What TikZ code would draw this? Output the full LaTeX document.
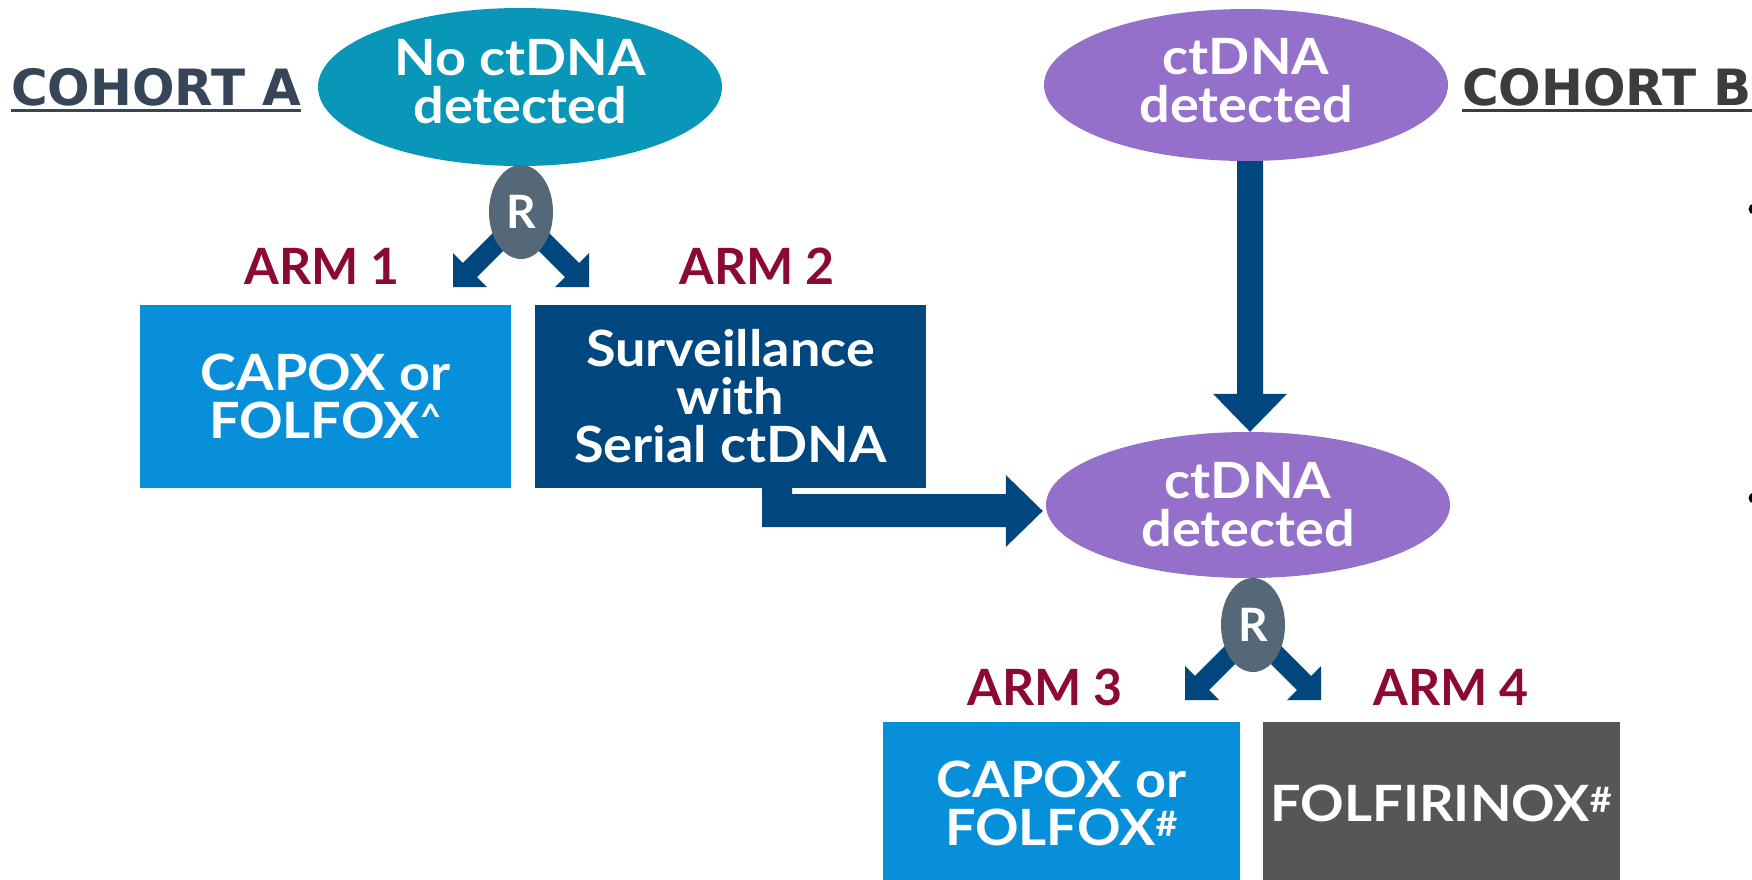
\documentclass[tikz,border=0pt]{standalone}
\usepackage{fontspec}
\setmainfont{Lato}
\newfontfamily\widefont{Lato}[FakeStretch=1.08]
\newfontfamily\cohortfont{DejaVu Sans}
\usetikzlibrary{shapes.geometric,calc,backgrounds}
\definecolor{ctteal}{RGB}{8,150,185}
\definecolor{ctpurple}{RGB}{148,112,203}
\definecolor{rgrey}{RGB}{84,104,120}
\definecolor{ctnavy}{RGB}{0,70,127}
\definecolor{ltblue}{RGB}{8,143,218}
\definecolor{dkgrey}{RGB}{85,87,87}
\definecolor{armred}{RGB}{140,10,50}
\definecolor{cohortA}{RGB}{54,70,88}
\definecolor{cohortB}{RGB}{60,60,60}
\begin{document}
\begin{tikzpicture}[x=1pt,y=-1pt,
  ell/.style={ellipse, inner sep=0pt, minimum width=404pt},
  elltext/.style={inner sep=0pt, text=white, align=center,
    font=\widefont\bfseries\fontsize{50}{48}\selectfont},
  rnode/.style={ellipse, fill=rgrey, minimum width=64pt, minimum height=94pt,
    inner sep=0pt, text=white, font=\fontsize{46}{46}\selectfont\bfseries},
  boxnode/.style={rectangle, inner sep=0pt, text=white,
    font=\widefont\bfseries\fontsize{50}{48}\selectfont, align=center},
  armlabel/.style={text=armred, font=\fontsize{50}{50}\selectfont\bfseries,
    inner sep=0pt, anchor=base},
  cohort/.style={font=\cohortfont\bfseries\fontsize{50}{50}\selectfont,
    inner sep=0pt, anchor=base west},
  arrowfill/.style={fill=ctnavy}]
\clip (0,0) rectangle (1752,879);

% cohort labels
\node[cohort, text=cohortA] (cA) at (11,105) {COHORT A};
\draw[cohortA, line width=3pt] ($(cA.base west)+(0,5.5)$) -- ($(cA.base east)+(0,5.5)$);
\node[cohort, text=cohortB] (cB) at (1462,105) {COHORT B};
\draw[cohortB, line width=3pt] ($(cB.base west)+(0,5.5)$) -- ($(cB.base east)+(0,5.5)$);

% ellipses
\node[ell, fill=ctteal, minimum height=158pt] (eA) at (520,87) {};
\node[elltext] (eAt) at ($(eA.center)+(0,-5)$) {No ctDNA\\detected};
\node[ell, fill=ctpurple, minimum height=152pt] (eB) at (1246,85) {};
\node[elltext] (eBt) at ($(eB.center)+(0,-4)$) {ctDNA\\detected};
\node[ell, fill=ctpurple, minimum height=146pt] (eC) at (1248,505) {};
\node[elltext] (eCt) at ($(eC.center)+(0,0)$) {ctDNA\\detected};

% boxes
\node[boxnode, fill=ltblue, minimum width=371pt, minimum height=183pt] (b1) at (325.5,396.5)
  {CAPOX or\\FOLFOX\textsuperscript{\textasciicircum}};
\node[boxnode, fill=ctnavy, minimum width=391pt, minimum height=183pt] (b2) at (730.5,396.5)
  {Surveillance\\with\\Serial ctDNA};
\node[boxnode, fill=ltblue, minimum width=357pt, minimum height=162pt] (b3) at (1061.5,803)
  {CAPOX or\\FOLFOX\textsuperscript{\#}};
\node[boxnode, fill=dkgrey, minimum width=357pt, minimum height=162pt] (b4) at (1441.5,803)
  {FOLFIRINOX\textsuperscript{\#}};

% arm labels
\node[armlabel] (arm1) at (322,284) {ARM 1};
\node[armlabel] (arm2) at (757,284) {ARM 2};
\node[armlabel] (arm3) at (1045,705) {ARM 3};
\node[armlabel] (arm4) at (1451,705) {ARM 4};

% randomisation nodes
\node[rnode] (rA) at (521,212) {R};
\node[rnode] (rB) at (1253,625) {R};

\begin{pgfonlayer}{background}
\fill[white] (0,0) rectangle (1752,879);
% split arrows below each R
\foreach \r in {rA,rB} {
  \fill[arrowfill] ($(\r)+(11.07,10.07)$) -- ($(\r)+(-43.93,65.07)$) -- ($(\r)+(-34,75)$)
    -- ($(\r)+(-68,75)$) -- ($(\r)+(-68,41)$) -- ($(\r)+(-58.07,50.93)$)
    -- ($(\r)+(-3.07,-4.07)$) -- cycle;
  \fill[arrowfill] ($(\r)+(-11.07,10.07)$) -- ($(\r)+(43.93,65.07)$) -- ($(\r)+(34,75)$)
    -- ($(\r)+(68,75)$) -- ($(\r)+(68,41)$) -- ($(\r)+(58.07,50.93)$)
    -- ($(\r)+(3.07,-4.07)$) -- cycle;
}
% vertical arrow cohort B
\coordinate (vt) at ($(eC.north)+(2,0)$);
\fill[arrowfill] ($(eB.south)+(-9,-2)$) -- ($(eB.south)+(17,-2)$) -- ($(vt)+(13,-38)$)
  -- ($(vt)+(37,-38)$) -- (vt) -- ($(vt)+(-37,-38)$) -- ($(vt)+(-13,-38)$) -- cycle;
% bent arrow from surveillance to ctDNA detected
\coordinate (tipC) at ($(eC.west)+(-3,6)$);
\fill[arrowfill] ($(b2.south)+(31.5,0)$) -- ($(b2.south)+(61.5,0)$) -- ($(b2.south)+(61.5,6)$)
  -- ($(tipC)+(-37,-17)$) -- ($(tipC)+(-37,-36)$) -- (tipC) -- ($(tipC)+(-37,36)$)
  -- ($(tipC)+(-37,16)$) -- ($(b2.south)+(31.5,39)$) -- cycle;
\end{pgfonlayer}

% partial bullets at the right edge
\fill[black] (1754,209) circle (5.5);
\fill[black] (1754,498) circle (5.5);
\end{tikzpicture}
\end{document}
